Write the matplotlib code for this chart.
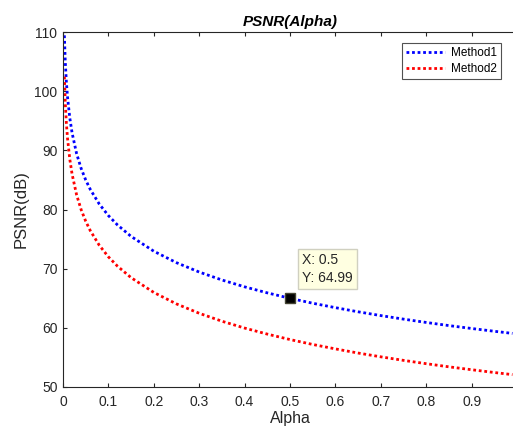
import matplotlib
matplotlib.use("Agg")
import matplotlib.pyplot as plt

plt.rcParams['font.family'] = ['Liberation Sans', 'DejaVu Sans']

alpha = [0.003, 0.005, 0.0075, 0.01, 0.015, 0.02, 0.03, 0.04, 0.05, 0.06, 0.08,
         0.1, 0.12, 0.15, 0.2, 0.25, 0.3, 0.35, 0.4, 0.45, 0.5, 0.55, 0.6, 0.65,
         0.7, 0.75, 0.8, 0.85, 0.9, 0.95, 0.99]
method1 = [109.43, 104.99, 101.47, 98.97, 95.45, 92.95, 89.43, 86.93, 84.99, 83.41, 80.91,
           78.97, 77.39, 75.45, 72.95, 71.01, 69.43, 68.09, 66.93, 65.91, 64.99, 64.16,
           63.41, 62.71, 62.07, 61.47, 60.91, 60.38, 59.89, 59.42, 59.06]
method2 = [102.46, 98.02, 94.50, 92.00, 88.48, 85.98, 82.46, 79.96, 78.02, 76.44, 73.94,
           72.00, 70.42, 68.48, 65.98, 64.04, 62.46, 61.12, 59.96, 58.94, 58.02, 57.19,
           56.44, 55.74, 55.10, 54.50, 53.94, 53.41, 52.92, 52.45, 52.09]
xticks = [0, 0.1, 0.2, 0.3, 0.4, 0.5, 0.6, 0.7, 0.8, 0.9]
xticklabels = ['0', '0.1', '0.2', '0.3', '0.4', '0.5', '0.6', '0.7', '0.8', '0.9']
yticks = [50, 60, 70, 80, 90, 100, 110]
tip_x, tip_y = 0.5, 64.99

fig = plt.figure(figsize=(5.13, 4.30), dpi=100)
ax = fig.add_axes([63/513, 1-387/430, (517-63)/513, 355/430])

ls = (0, (1, 1))
ax.plot(alpha, method1, color='#0000ff', lw=2, linestyle=ls, label='Method1')
ax.plot(alpha, method2, color='#ff0000', lw=2, linestyle=ls, label='Method2')

ax.plot([tip_x], [tip_y], marker='s', color='black', markersize=6.5,
        markeredgecolor='#444433', linestyle='none', zorder=5)
ax.text(0.527, 67.3, 'X: %s\nY: %.2f' % ('0.5', tip_y), fontsize=10, color='#262626',
        va='bottom', ha='left', linespacing=1.35,
        bbox=dict(boxstyle='square,pad=0.3', facecolor='#ffffe1', edgecolor='#d0d0c0', lw=1),
        zorder=6)

ax.set_xlim(0, 1)
ax.set_ylim(50, 110)
ax.set_xticks(xticks)
ax.set_xticklabels(xticklabels)
ax.set_yticks(yticks)
ax.tick_params(direction='in', length=3, width=0.8, colors='#262626', labelsize=10,
               top=True, right=False, pad=4)
ax.tick_params(axis='x', pad=6)
for s in ['left', 'bottom', 'top']:
    ax.spines[s].set_color('#262626')
    ax.spines[s].set_linewidth(0.8)
ax.spines['right'].set_visible(False)

ax.set_xlabel('Alpha', fontsize=11.5, color='#262626', labelpad=1)
ax.set_ylabel('PSNR(dB)', fontsize=12, color='#262626', labelpad=4)
ax.set_title('PSNR(Alpha)', fontsize=11, fontweight='bold', fontstyle='italic',
             color='black', pad=4)

leg = ax.legend(loc='upper left', bbox_to_anchor=((402-63)/454, 1-(43-32)/355),
                fontsize=8.5, frameon=True, fancybox=False, handlelength=3.3,
                borderpad=0.35, labelspacing=0.3, handletextpad=0.5, borderaxespad=0)
leg.get_frame().set_edgecolor('#262626')
leg.get_frame().set_linewidth(0.8)

fig.savefig('out.png', dpi=100)
